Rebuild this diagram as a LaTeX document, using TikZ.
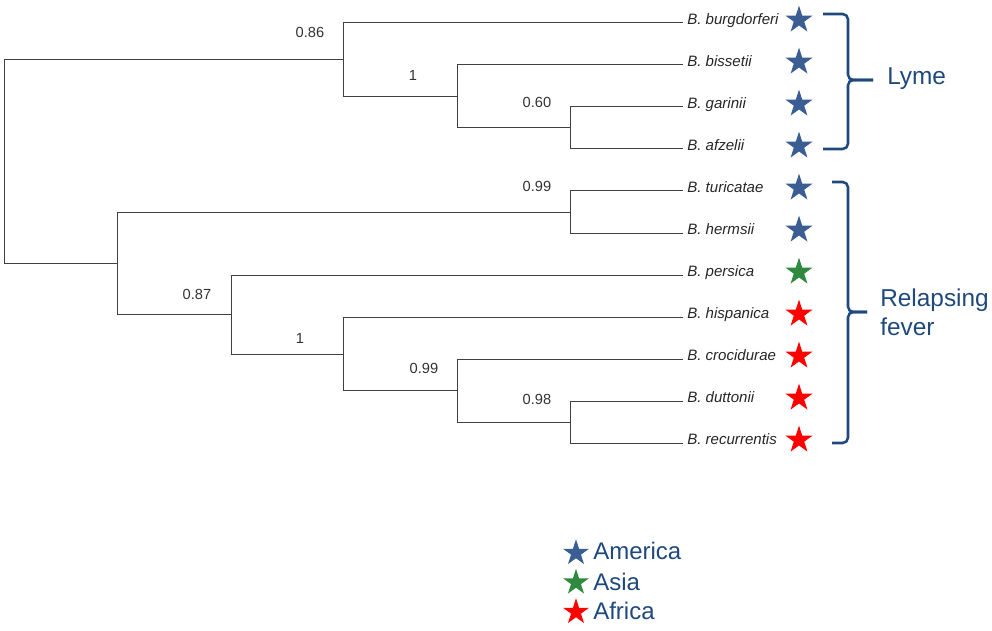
\documentclass[tikz,border=0pt]{standalone}
\usepackage{fontspec}
\setmainfont{Liberation Sans}
\usetikzlibrary{shapes.geometric}
\definecolor{treegray}{HTML}{404040}
\definecolor{lblue}{HTML}{1F497D}
\definecolor{sblue}{HTML}{3A5D93}
\definecolor{sgreen}{HTML}{2F8A3F}
\definecolor{sred}{HTML}{FF0000}
\begin{document}
\begin{tikzpicture}[x=0.75pt,y=-0.75pt,
  branch/.style={draw=treegray,line width=0.75pt},
  leaflab/.style={anchor=base west,inner sep=0pt,font=\fontsize{11.3}{13}\selectfont\itshape,text=black!85},
  boot/.style={inner sep=0pt,font=\fontsize{11}{13}\selectfont,text=black!80},
  starshape/.style={star,star points=5,star point ratio=2.618,inner sep=0pt,minimum size=21.5pt,draw=none},
  bracepath/.style={draw=lblue,line width=1.9pt,rounded corners=4pt},
  grp/.style={anchor=base west,inner sep=0pt,font=\fontsize{18.3}{22}\selectfont,text=lblue},
  legtext/.style={anchor=base west,inner sep=0pt,font=\fontsize{18}{20}\selectfont,text=lblue}]
\useasboundingbox (0,0) rectangle (992,631);

% internal nodes
\coordinate (root) at (4,161.5);
\coordinate (nA) at (343,60);
\coordinate (nB) at (457,96.5);
\coordinate (nC) at (570,128);
\coordinate (nD) at (117,263.5);
\coordinate (nE) at (570,212);
\coordinate (nF) at (231,314.5);
\coordinate (nG) at (343,354);
\coordinate (nH) at (457,390.5);
\coordinate (nI) at (570,422);

% leaves
\foreach \i/\y/\nm/\col in {1/23/burgdorferi/sblue, 2/65/bissetii/sblue, 3/107/garinii/sblue,
  4/149/afzelii/sblue, 5/191/turicatae/sblue, 6/233/hermsii/sblue, 7/275/persica/sgreen,
  8/317/hispanica/sred, 9/359/crocidurae/sred, 10/401/duttonii/sred, 11/443/recurrentis/sred}{
  \coordinate (l\i) at (683,\y);
  \node[leaflab] (t\i) at (687,\y+1.5) {B. \nm};
  \node[starshape,fill=\col] (s\i) at (799,\y-3) {};
}

% branches
\draw[branch] (root) |- (nA);
\draw[branch] (root) |- (nD);
\draw[branch] (nA) |- (l1);
\draw[branch] (nA) |- (nB);
\draw[branch] (nB) |- (l2);
\draw[branch] (nB) |- (nC);
\draw[branch] (nC) |- (l3);
\draw[branch] (nC) |- (l4);
\draw[branch] (nD) |- (nE);
\draw[branch] (nD) |- (nF);
\draw[branch] (nE) |- (l5);
\draw[branch] (nE) |- (l6);
\draw[branch] (nF) |- (l7);
\draw[branch] (nF) |- (nG);
\draw[branch] (nG) |- (l8);
\draw[branch] (nG) |- (nH);
\draw[branch] (nH) |- (l9);
\draw[branch] (nH) |- (nI);
\draw[branch] (nI) |- (l10);
\draw[branch] (nI) |- (l11);

% support values
\node[boot] (b1) at (310,32) {0.86};
\node[boot] (b2) at (413,75) {1};
\node[boot] (b3) at (537,102) {0.60};
\node[boot] (b4) at (537,186) {0.99};
\node[boot] (b5) at (197,294) {0.87};
\node[boot] (b6) at (300,338) {1};
\node[boot] (b7) at (424,368) {0.99};
\node[boot] (b8) at (537,399) {0.98};

% braces
\draw[bracepath] (823,14) -- (848,14) -- (848,80) -- (873,80);
\draw[bracepath] (873,80) -- (848,80) -- (848,149) -- (823,149);
\draw[bracepath] (832,182) -- (848,182) -- (848,312) -- (867,312);
\draw[bracepath] (867,312) -- (848,312) -- (848,443) -- (832,443);

\node[grp] (lyme) at (887,85) {Lyme};
\node[grp] (rf1) at (880,306) {Relapsing};
\node[grp] (rf2) at (880,335) {fever};

% legend
\node[starshape,fill=sblue,minimum size=20.5pt] (ls1) at (576,553) {};
\node[starshape,fill=sgreen,minimum size=20.5pt] (ls2) at (576,582.5) {};
\node[starshape,fill=sred,minimum size=20.5pt] (ls3) at (576,612) {};
\node[legtext] (lt1) at (593,559) {America};
\node[legtext] (lt2) at (593,590) {Asia};
\node[legtext] (lt3) at (593,619) {Africa};
\end{tikzpicture}
\end{document}
